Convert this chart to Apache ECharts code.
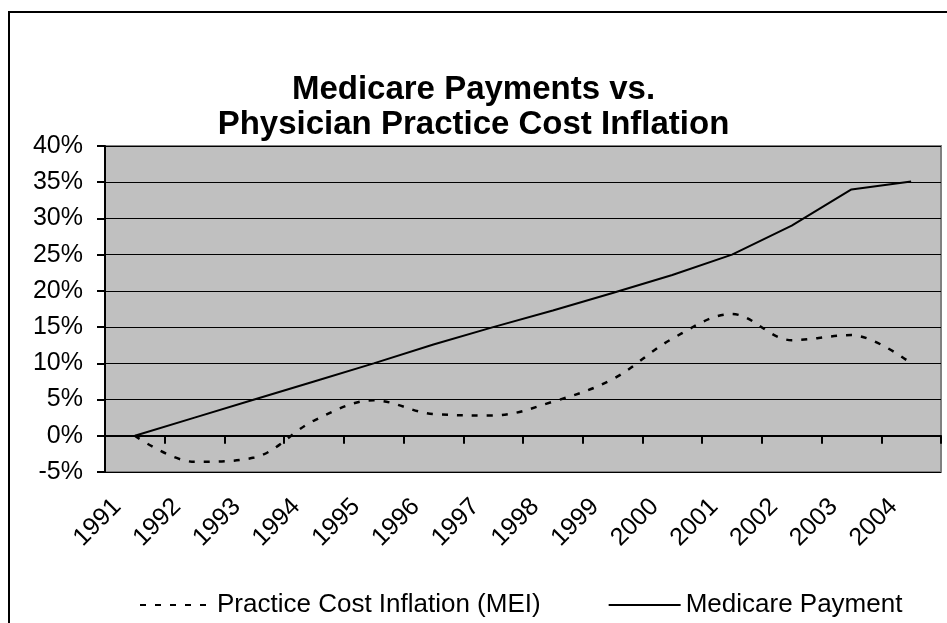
<!DOCTYPE html>
<html>
<head>
<meta charset="utf-8">
<script src="https://cdn.jsdelivr.net/npm/echarts@6/dist/echarts.min.js"></script>
<style>
  html, body { margin: 0; padding: 0; background: #fff; }
  #chart { width: 947px; height: 623px; }
</style>
</head>
<body>
<div id="chart"></div>
<script>
// years on the category axis
var years = ['1991', '1992', '1993', '1994', '1995', '1996', '1997',
  '1998', '1999', '2000', '2001', '2002', '2003', '2004']
// cumulative change, percent
var meiValues = [0, -3.6, -3.0, 2.1, 4.9, 3.0, 2.8, 4.7, 7.8, 13.4, 16.8, 13.2, 13.9, 10.0]
var medicareValues = [0, 2.5, 5.0, 7.5, 10.0, 12.6, 15.0, 17.3, 19.7, 22.2, 25.0, 29.0, 34.0, 35.1]
var yTicks = { min: -5, max: 40, step: 5 }

var font = 'Liberation Sans, Arial, sans-serif'
var myChart = echarts.init(document.getElementById('chart'))

var option = {
  backgroundColor: '#fff',
  animation: false,
  graphic: [{
    type: 'rect',
    shape: { x: 9, y: 12, width: 980, height: 700 },
    style: { fill: 'none', stroke: '#000', lineWidth: 2 },
    z: -1
  }],
  title: {
    text: 'Medicare Payments vs.\nPhysician Practice Cost Inflation',
    left: 'center',
    top: 67,
    textStyle: {
      fontFamily: font,
      fontSize: 33,
      fontWeight: 'bold',
      color: '#000',
      lineHeight: 35
    }
  },
  legend: {
    left: 134,
    top: 587,
    itemWidth: 72,
    itemHeight: 14,
    itemGap: 67,
    itemStyle: { opacity: 0 },
    textStyle: { fontFamily: font, fontSize: 26, color: '#000' },
    data: [
      { name: 'Practice Cost Inflation (MEI)', textStyle: { width: 335 } },
      { name: 'Medicare Payment' }
    ]
  },
  grid: {
    left: 105,
    right: 6,
    top: 146,
    bottom: 151,
    show: true,
    backgroundColor: '#C0C0C0',
    borderColor: '#808080',
    borderWidth: 2
  },
  xAxis: {
    type: 'category',
    data: years,
    boundaryGap: true,
    axisLine: { lineStyle: { color: '#000', width: 2 } },
    axisTick: { show: true, length: 8, lineStyle: { color: '#000', width: 2 } },
    axisLabel: {
      rotate: 45,
      interval: 0,
      margin: 13,
      padding: [0, 25, 0, 0],
      fontFamily: font,
      fontSize: 25,
      color: '#000'
    },
    splitLine: { show: false }
  },
  yAxis: {
    type: 'value',
    min: yTicks.min,
    max: yTicks.max,
    interval: yTicks.step,
    axisLine: { show: true, lineStyle: { color: '#000', width: 2 } },
    axisTick: { show: true, length: 8, lineStyle: { color: '#000', width: 2 } },
    axisLabel: {
      formatter: '{value}%',
      margin: 22,
      fontFamily: font,
      fontSize: 25,
      color: '#000'
    },
    splitLine: { lineStyle: { color: '#000', width: 1 } }
  },
  series: [
    {
      name: 'Practice Cost Inflation (MEI)',
      type: 'line',
      data: meiValues,
      smooth: 0.35,
      symbol: 'none',
      itemStyle: { color: '#000' },
      lineStyle: { color: '#000', width: 2.5, type: [6, 9] },
      z: 3
    },
    {
      name: 'Medicare Payment',
      type: 'line',
      data: medicareValues,
      symbol: 'none',
      itemStyle: { color: '#000' },
      lineStyle: { color: '#000', width: 2, type: 'solid' },
      z: 3
    }
  ]
}
myChart.setOption(option)
</script>
</body>
</html>
